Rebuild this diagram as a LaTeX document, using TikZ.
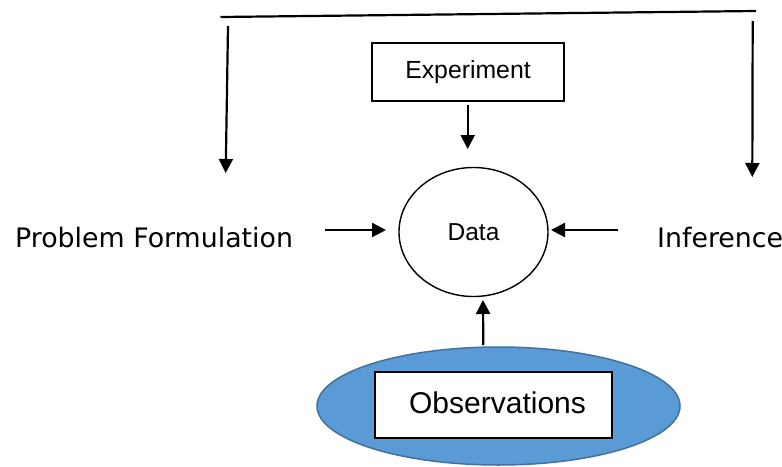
\documentclass[tikz,border=0pt]{standalone}
\usepackage{fontspec}
\setmainfont{Liberation Sans}
\newfontfamily\dvs{DejaVu Sans}
\usetikzlibrary{shapes.geometric,arrows.meta}
\definecolor{obsfill}{HTML}{5B9BD5}
\definecolor{obsdraw}{HTML}{41719C}
\tikzset{
  conn/.style={line width=2.2pt,-{Triangle[length=14pt,width=14pt]}},
  plainline/.style={line width=2.2pt},
  sidelabel/.style={inner sep=0pt,anchor=base west,font=\dvs\fontsize{26.8}{30}\selectfont},
  boxed/.style={draw,line width=1.4pt,rectangle,inner sep=0pt},
}
\begin{document}
\begin{tikzpicture}[x=1pt,y=-1pt]
\useasboundingbox (0,0) rectangle (782,466);
% nodes
\node[boxed,minimum width=192pt,minimum height=58pt,font=\fontsize{24.8}{28}\selectfont] (exp) at (468,72) {Experiment};
\node[draw,ellipse,line width=1.4pt,minimum width=149pt,minimum height=129pt,inner sep=0pt,font=\fontsize{24.5}{28}\selectfont] (data) at (473.5,232) {Data};
\node[ellipse,fill=obsfill,draw=obsdraw,line width=1.5pt,minimum width=363pt,minimum height=118pt,inner sep=0pt] (obsell) at (498.5,406) {};
\node[boxed,fill=white,minimum width=237pt,minimum height=66pt,font=\fontsize{30}{34}\selectfont] (obs) at (493.5,405) {\hspace*{8pt}\raisebox{4pt}{Observations}};
\node[sidelabel] (pf) at (15,247) {Problem Formulation};
\node[sidelabel] (inf) at (657,247) {Inference};
% coordinates for free connector ends
\coordinate (tl) at (220.5,17);
\coordinate (tr) at (756,11);
\coordinate (ls) at (228,26);
\coordinate (le) at (225.7,173);
\coordinate (rs) at (752.7,21);
\coordinate (re) at (752.3,177);
\coordinate (es) at (467.7,105);
\coordinate (ee) at (467.7,149);
\coordinate (pfs) at (325,230);
\coordinate (pfe) at (386,230);
\coordinate (ins) at (618,230);
\coordinate (ine) at (551,230);
\coordinate (os) at (483.3,345);
\coordinate (oe) at (483,300);
% connectors
\draw[plainline] (tl) -- (tr);
\draw[conn] (ls) -- (le);
\draw[conn] (rs) -- (re);
\draw[conn] (es) -- (ee);
\draw[conn] (pfs) -- (pfe);
\draw[conn] (ins) -- (ine);
\draw[conn] (os) -- (oe);
\end{tikzpicture}
\end{document}
